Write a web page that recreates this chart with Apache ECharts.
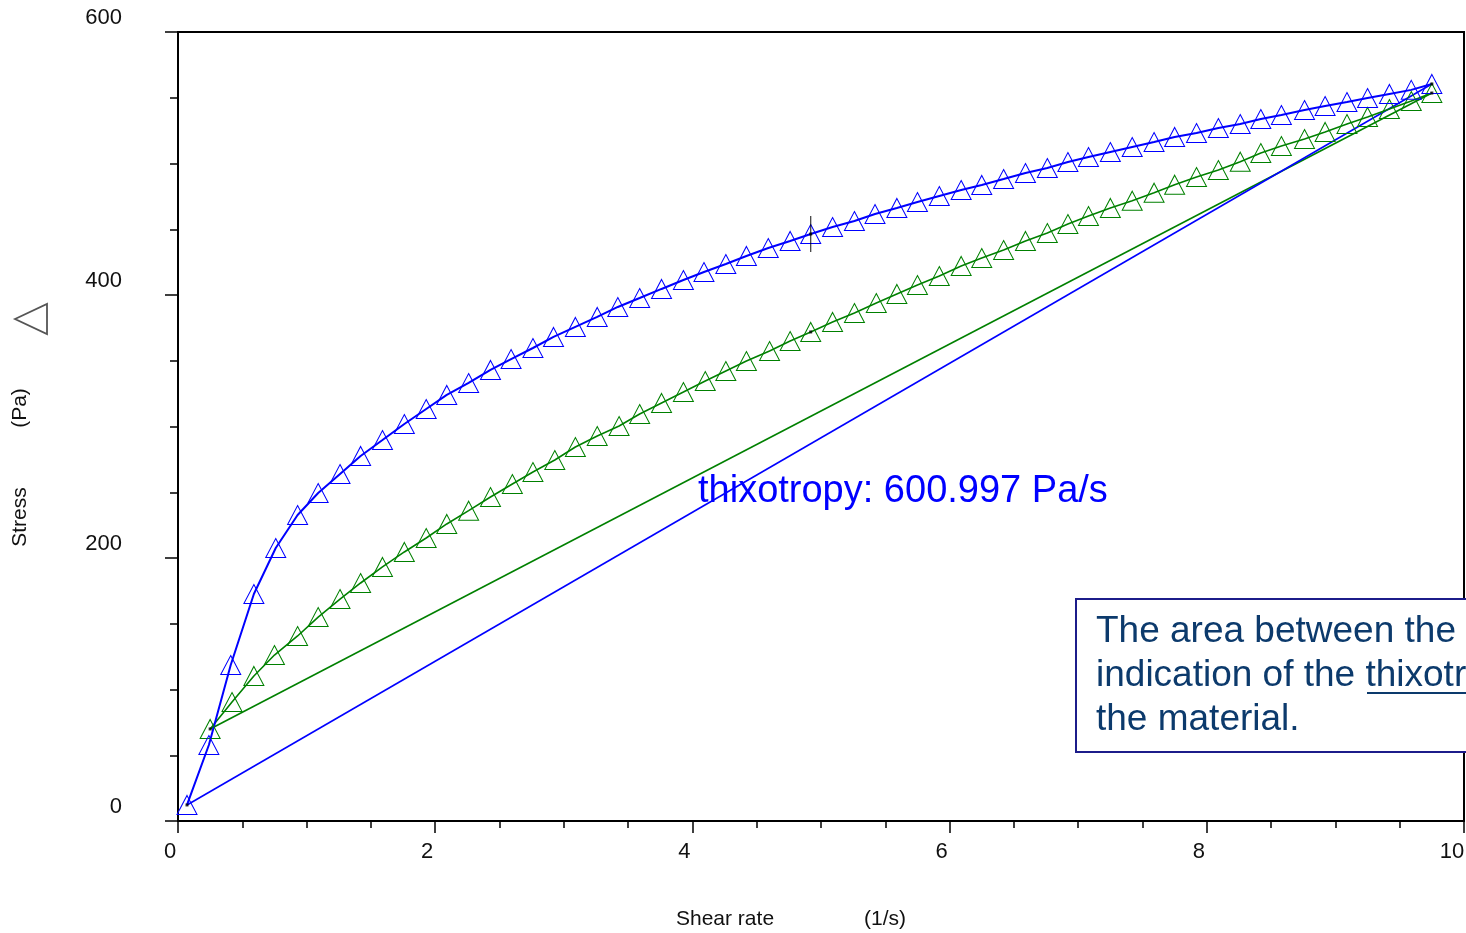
<!DOCTYPE html>
<html>
<head>
<meta charset="utf-8">
<title>Thixotropy loop</title>
<script src="https://cdn.jsdelivr.net/npm/echarts@6/dist/echarts.min.js"></script>
<style>
    html, body { margin: 0; padding: 0; background: #fff; }
    #chart { width: 1466px; height: 933px; }
</style>
</head>
<body>
<div id="chart"></div>
<script>
// up ramp (blue), shear rate in 1/s and stress in Pa
var upRate = [0.07, 0.24, 0.41, 0.59, 0.76, 0.93, 1.09, 1.26, 1.42, 1.59, 1.76, 1.93, 2.09, 2.26, 2.43, 2.59, 2.76, 2.92, 3.09, 3.26,
    3.42, 3.59, 3.76, 3.93, 4.09, 4.26, 4.42, 4.59, 4.76, 4.92, 5.09, 5.26, 5.42, 5.59, 5.75, 5.92, 6.09, 6.25, 6.42, 6.59,
    6.76, 6.92, 7.08, 7.25, 7.42, 7.59, 7.75, 7.92, 8.09, 8.26, 8.42, 8.58, 8.76, 8.92, 9.09, 9.25, 9.42, 9.59, 9.75];
var upStress = [12.2, 57.8, 118.6, 172.6, 207.6, 232.7, 249.4, 263.9, 277.6, 289.7, 301.9, 313.3, 324.0, 333.1, 343.0, 351.3, 359.7, 368.1, 375.7, 383.3,
    390.9, 397.7, 404.6, 411.4, 417.5, 423.6, 429.7, 435.7, 441.1, 446.4, 451.7, 456.3, 461.6, 466.2, 470.7, 475.3, 479.8, 483.7, 488.2, 492.8,
    496.6, 501.1, 504.9, 508.7, 512.5, 516.3, 520.2, 523.2, 527.0, 530.0, 533.8, 536.9, 540.7, 543.7, 546.7, 549.8, 552.9, 556.0, 560.5];

// down ramp (green)
var downRate = [0.25, 0.42, 0.59, 0.75, 0.93, 1.09, 1.26, 1.42, 1.59, 1.76, 1.93, 2.09, 2.26, 2.43, 2.60, 2.76, 2.93, 3.09, 3.26, 3.43,
    3.59, 3.76, 3.93, 4.10, 4.26, 4.42, 4.60, 4.76, 4.92, 5.09, 5.26, 5.43, 5.59, 5.75, 5.92, 6.09, 6.25, 6.42, 6.59, 6.76,
    6.92, 7.08, 7.25, 7.42, 7.59, 7.75, 7.92, 8.09, 8.26, 8.42, 8.58, 8.76, 8.92, 9.09, 9.25, 9.42, 9.59, 9.75];
var downStress = [70.0, 90.5, 110.3, 126.2, 140.7, 155.1, 168.8, 181.0, 193.2, 204.6, 215.2, 225.9, 236.0, 246.4, 256.3, 265.4, 274.5, 284.4, 292.8, 300.4,
    309.5, 317.9, 326.2, 334.6, 342.2, 349.8, 357.4, 365.0, 371.9, 379.5, 386.3, 393.9, 400.8, 407.6, 414.4, 422.1, 428.1, 434.2, 441.1, 447.1,
    454.0, 460.1, 466.2, 471.7, 477.8, 483.9, 489.7, 495.0, 501.4, 508.0, 513.3, 518.6, 524.0, 530.0, 535.4, 541.4, 547.5, 553.6];

var xTicks = [0, 2, 4, 6, 8, 10];
var yTicks = [0, 200, 400, 600];
var cursorIndexUp = 29;
var cursorIndexDown = 28;

var thixoText = 'thixotropy: 600.997 Pa/s';
var noteLines = ['The area between the', 'indication of the thixotr', 'the material.'];

var FONT = '"Liberation Sans", Arial, sans-serif';
var BLUE = '#0000ff';
var GREEN = '#008000';
var NOTE = '#0c3a6c';

function pairs(xs, ys) {
    var out = [];
    for (var i = 0; i < xs.length; i++) out.push([xs[i], ys[i]]);
    return out;
}

document.addEventListener('DOMContentLoaded', function() {
    var chart = echarts.init(document.getElementById('chart'), null, { renderer: 'canvas' });

    var upData = pairs(upRate, upStress);
    var downData = pairs(downRate, downStress);
    var nUp = upData.length - 1, nDown = downData.length - 1;

    function curve(name, data, color, width) {
        return {
            name: name,
            type: 'line',
            data: data,
            symbol: 'triangle',
            symbolSize: [20, 19],
            showAllSymbol: true,
            lineStyle: { color: color, width: width },
            itemStyle: { color: 'rgba(0,0,0,0)', borderColor: color, borderWidth: 1 },
            emphasis: { disabled: true },
            z: 3
        };
    }

    function chord(name, a, b, color) {
        return {
            name: name,
            type: 'line',
            data: [a, b],
            symbol: 'none',
            lineStyle: { color: color, width: 1.6 },
            emphasis: { disabled: true },
            z: 2
        };
    }

    var option = {
        animation: false,
        backgroundColor: '#fff',
        grid: {
            left: 178, top: 32, right: 2, bottom: 112,
            outerBoundsMode: 'none',
            containLabel: false,
            show: true, borderColor: '#000', borderWidth: 2, backgroundColor: 'transparent'
        },
        xAxis: {
            type: 'value',
            min: 0, max: 10, interval: 2,
            axisLine: { lineStyle: { color: '#000', width: 2 } },
            axisTick: { length: 12, lineStyle: { color: '#000', width: 1.5 } },
            minorTick: { show: true, splitNumber: 4, length: 7, lineStyle: { color: '#000', width: 1.5 } },
            splitLine: { show: false },
            axisLabel: {
                color: '#111', fontSize: 22, fontFamily: FONT, margin: 20, padding: [0, 16, 0, 0],
                formatter: function(v) {
                    if (xTicks.indexOf(v) < 0) return '';
                    // last label sits a little further left
                    return v === 10 ? '{last|10}' : String(v);
                },
                rich: {
                    last: { fontSize: 22, fontFamily: FONT, color: '#111', padding: [0, 8, 0, 0] }
                }
            }
        },
        yAxis: {
            type: 'value',
            min: 0, max: 600, interval: 200,
            axisLine: { lineStyle: { color: '#000', width: 2 } },
            axisTick: { length: 13, lineStyle: { color: '#000', width: 1.5 } },
            minorTick: { show: true, splitNumber: 4, length: 8, lineStyle: { color: '#000', width: 1.5 } },
            splitLine: { show: false },
            axisLabel: {
                color: '#111', fontSize: 22, fontFamily: FONT, margin: 56,
                verticalAlign: 'bottom', lineHeight: 28,
                formatter: function(v) { return yTicks.indexOf(v) >= 0 ? String(v) : ''; }
            }
        },
        series: [
            chord('down chord', downData[0], downData[nDown], GREEN),
            chord('up chord', upData[0], upData[nUp], BLUE),
            curve('down', downData, GREEN, 1.6),
            curve('up', upData, BLUE, 2),
            {
                // small black points at the ends and at the cursor
                name: 'points',
                type: 'scatter',
                symbol: 'rect',
                symbolSize: 3,
                itemStyle: { color: '#000' },
                data: [upData[0], upData[nUp], downData[0], downData[nDown], upData[cursorIndexUp], downData[cursorIndexDown]],
                emphasis: { disabled: true },
                z: 5
            },
            {
                name: 'cursor',
                type: 'scatter',
                symbol: 'rect',
                symbolSize: [1.2, 36],
                itemStyle: { color: '#000' },
                data: [upData[cursorIndexUp]],
                emphasis: { disabled: true },
                z: 5
            }
        ],
        graphic: [
            // legend symbol and axis names
            {
                type: 'polygon',
                shape: { points: [[15, 319], [47, 304], [47, 334]] },
                style: { fill: 'none', stroke: '#555', lineWidth: 1.8 }
            },
            {
                type: 'text', x: 20, y: 517, rotation: Math.PI / 2,
                style: { text: 'Stress', fill: '#111', font: '21px ' + FONT, align: 'center', verticalAlign: 'middle' }
            },
            {
                type: 'text', x: 20, y: 408, rotation: Math.PI / 2,
                style: { text: '(Pa)', fill: '#111', font: '21px ' + FONT, align: 'center', verticalAlign: 'middle' }
            },
            {
                type: 'text', x: 676, y: 919,
                style: { text: 'Shear rate', fill: '#111', font: '21px ' + FONT, align: 'left', verticalAlign: 'middle' }
            },
            {
                type: 'text', x: 864, y: 919,
                style: { text: '(1/s)', fill: '#111', font: '21px ' + FONT, align: 'left', verticalAlign: 'middle' }
            },
            {
                type: 'text', x: 698, y: 492, z: 10,
                style: { text: thixoText, fill: BLUE, font: '38px ' + FONT, align: 'left', verticalAlign: 'middle' }
            },
            // note box, runs off the right edge
            {
                type: 'rect', z: 20,
                shape: { x: 1076, y: 599, width: 500, height: 153 },
                style: { fill: '#fff', stroke: '#1c1c8a', lineWidth: 2 }
            },
            {
                type: 'text', x: 1096, y: 610, z: 21,
                style: { text: noteLines.join('\n'), fill: NOTE, font: '37px ' + FONT, lineHeight: 44, align: 'left', verticalAlign: 'top' }
            },
            {
                type: 'line', z: 21,
                shape: { x1: 1367, y1: 693, x2: 1470, y2: 693 },
                style: { stroke: NOTE, lineWidth: 2 }
            }
        ]
    };

    chart.setOption(option);
});
</script>
</body>
</html>
